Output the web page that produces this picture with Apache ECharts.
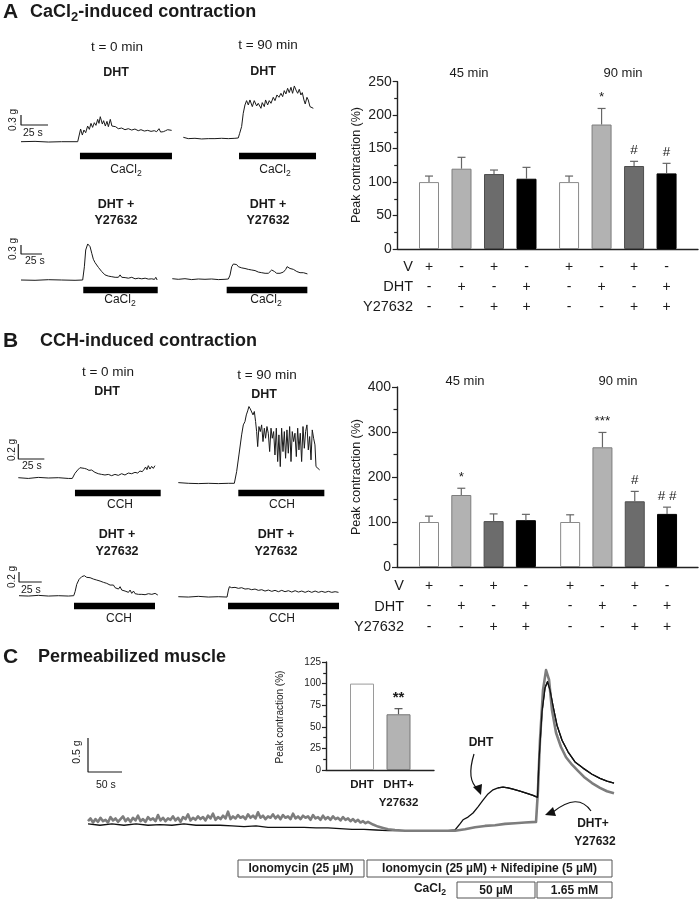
<!DOCTYPE html>
<html><head><meta charset="utf-8">
<script src="https://cdn.jsdelivr.net/npm/echarts@6/dist/echarts.min.js"></script>
<style>html,body{margin:0;padding:0;background:#fff}#c{width:700px;height:900px}</style>
</head><body><div id="c"></div>
<script>
// ================= DATA =================
// Panel A / B bar charts (Peak contraction, %)
const groupLabels = ['45 min', '90 min'];
const rowLabels = ['V', 'DHT', 'Y27632'];
const signV   = ['+','-','+','-','+','-','+','-'];
const signDHT = ['-','+','-','+','-','+','-','+'];
const signY   = ['-','-','+','+','-','-','+','+'];

const caMean = [100, 120, 112, 105, 100, 186, 124, 113];
const caErr  = [9, 17, 6, 17, 9, 24, 7, 15];
const caMark = ['', '', '', '', '', '*', '#', '#'];

const cchMean = [100, 160, 102, 104, 100, 266, 146, 118];
const cchErr  = [13, 15, 16, 13, 16, 33, 22, 15];
const cchMark = ['', '*', '', '', '', '***', '#', '# #'];

// Panel C inset
const permLabels = ['DHT', 'DHT+\nY27632'];
const permMean = [100, 64.5];
const permErr  = [0, 6.5];
const permMark = ['', '**'];

// Traces: [time (s), tension (g) relative to baseline]
const aT0DHT = [[0,0],[13,0.01],[25.3,-0.01],[37.6,0],[52.5,0],[54,0.01],[55.2,0.38],[56.8,0.2],[58.3,0.35],[59.9,0.27],[61.7,0.47],[63.3,0.37],[64.8,0.55],[66.3,0.43],[67.9,0.57],[69.4,0.49],[71,0.67],[72.2,0.55],[73.4,0.75],[75.3,0.53],[76.5,0.63],[78.1,0.47],[79.6,0.61],[80.9,0.45],[82.7,0.67],[84.2,0.47],[85.8,0.43],[87.6,0.45],[90.1,0.39],[93.2,0.41],[96.3,0.36],[99.4,0.39],[102.5,0.35],[105.5,0.38],[108.6,0.33],[111.1,0.36],[114.2,0.32],[117.3,0.34],[120.4,0.31],[123.4,0.33],[125.6,0.3],[127.8,0.39],[129.3,0.29],[131.8,0.3],[133.9,0.33],[135.8,0.36],[137.3,0.31],[139.5,0.34]];
const aT90DHT = [[0,0.03],[4.6,-0.01],[10.8,0],[17,-0.02],[23.1,-0.01],[29.3,-0.01],[35.5,0],[41.7,-0.01],[47.8,0],[50.9,0.01],[52.2,0.15],[54,0.35],[55.5,0.75],[57.1,1.0],[58.6,1.13],[60.2,1.0],[61.7,1.15],[63.9,0.95],[65.7,1.13],[67.9,0.97],[69.4,1.05],[71.9,0.9],[73.1,1.07],[75,0.95],[76.2,1.15],[78.1,1.0],[79.6,1.13],[81.2,1.05],[83.3,1.23],[84.9,1.13],[86.7,1.3],[88.6,1.23],[90.4,1.35],[92,1.25],[93.5,1.43],[95,1.33],[96.6,1.5],[98.1,1.37],[99.7,1.53],[101.2,1.35],[102.8,1.57],[104.3,1.45],[105.9,1.35],[107.4,1.47],[108.9,1.3],[110.2,1.37],[111.7,1.15],[112.9,1.03],[114.5,1.23],[115.7,1.15],[117.3,0.95],[118.8,0.93],[120.4,0.9]];
const aT0Y = [[0,0],[16.7,-0.01],[32.6,0.01],[48.4,0],[64.3,-0.01],[73.4,0],[74.2,0],[75.4,0.44],[77,1.0],[79.4,1.2],[82.2,1.11],[84.2,0.89],[86.1,0.69],[88.1,0.58],[90.1,0.5],[92.1,0.42],[94.1,0.36],[96.1,0.28],[98.1,0.24],[100,0.17],[102,0.2],[104,0.13],[106,0.17],[108,0.11],[110,0.17],[112,0.09],[113.9,0.13],[115.9,0.09],[117.9,0.17],[119.9,0.09],[123.9,0.08],[127.8,0.06],[131.8,0.09],[135.8,0.04],[139.7,0.06],[143.7,0.04],[147.7,0.06],[151.7,0.03],[155.6,0.04],[158.8,0.02],[160.4,0.09],[162,0]];
const aT90Y = [[0,0.02],[7.1,0],[15.1,0.02],[23,-0.01],[31,0.01],[38.9,0],[46.8,0.01],[54.8,-0.01],[62.7,0],[66.7,0.01],[68.7,0.14],[70.7,0.42],[72.7,0.51],[74.6,0.53],[76.6,0.49],[78.6,0.42],[80.6,0.44],[82.6,0.38],[86.5,0.36],[90.5,0.33],[94.5,0.31],[98.5,0.29],[102.4,0.24],[106.4,0.22],[110.4,0.2],[114.3,0.2],[116.3,0.22],[118.3,0.31],[119.9,0.33],[121.5,0.26],[124.2,0.2],[128.2,0.2],[132.2,0.24],[135,0.33],[136.6,0.42],[138.2,0.37],[140.1,0.36],[142.1,0.31],[144.1,0.33],[146.1,0.27],[148.1,0.26],[150.1,0.28],[152,0.22],[154,0.24],[156,0.22],[158,0.23],[160.8,0.18]];
const bT0DHT = [[0,0],[9.6,-0.01],[19.2,0.004],[28.8,-0.004],[38.4,0],[48,-0.01],[51.8,-0.01],[54.4,0.058],[57,0.102],[59.2,0.133],[60.8,0.142],[63.4,0.124],[65.6,0.115],[67.8,0.098],[70.4,0.102],[73.6,0.071],[76.8,0.053],[80,0.044],[83.2,0.036],[86.4,0.044],[89.6,0.027],[92.8,0.044],[96,0.031],[99.2,0.053],[102.4,0.036],[105.6,0.062],[108.8,0.053],[112,0.071],[114.6,0.062],[116.8,0.089],[119,0.08],[121,0.115],[122.2,0.142],[123.5,0.107],[124.8,0.16],[126.4,0.115],[128,0.151],[129.6,0.124],[131.2,0.16]];
const bT90DHT = [[0,0.009],[9.6,0],[19.2,-0.004],[28.8,0],[38.4,-0.004],[48,0],[53.8,0],[56,0.155],[58.2,0.377],[60.8,0.644],[62.4,0.777],[64,0.821],[65.3,0.91],[66.6,0.963],[67.8,1.021],[69.1,0.99],[70.4,0.999],[71.7,0.91],[73,0.955],[74.2,0.821],[75.2,0.688],[76.2,0.488],[77.4,0.755],[78.7,0.688],[80,0.777],[81.3,0.555],[82.6,0.733],[83.8,0.599],[85.1,0.755],[86.4,0.666],[87.7,0.422],[89,0.733],[90.2,0.599],[91.5,0.688],[92.8,0.377],[94.1,0.733],[95.4,0.289],[96.6,0.644],[97.9,0.222],[99.2,0.733],[100.5,0.422],[101.8,0.688],[103,0.333],[104.3,0.71],[105.6,0.4],[106.9,0.755],[108.2,0.289],[109.4,0.688],[110.7,0.555],[112,0.666],[113.3,0.355],[114.6,0.733],[115.8,0.444],[117.1,0.666],[118.4,0.289],[119.7,0.755],[121,0.466],[122.2,0.688],[123.5,0.777],[124.8,0.444],[126.1,0.622],[127.4,0.311],[128.6,0.71],[129.9,0.599],[131.2,0.511],[132.2,0.222],[133.8,0.2],[135.7,0.178]];
const bT0Y = [[0,0],[10.3,-0.007],[21.3,0.007],[32.3,-0.007],[43.3,0],[54.3,-0.007],[60.2,0],[61.7,0.08],[63.5,0.227],[66.1,0.327],[69,0.38],[71.9,0.4],[74.5,0.367],[78.2,0.36],[81.8,0.333],[85.5,0.313],[89.2,0.293],[92.9,0.267],[96.5,0.247],[100.2,0.213],[102,0.18],[103.9,0.213],[105.7,0.16],[107.5,0.2],[109.4,0.133],[111.2,0.18],[113,0.113],[114.9,0.147],[116.7,0.093],[118.5,0.133],[120.4,0.067],[122.2,0.113],[124,0.047],[125.9,0.093],[127.7,0.04],[129.5,0.08],[131.4,0.027],[133.2,0.067],[135.1,0.027],[136.9,0.053],[138.7,0.02],[142.4,0.04],[146.1,0.027],[149.7,0.047],[152.7,0.013]];
const bT90Y = [[0,0],[11,-0.007],[22,0.007],[33,-0.007],[44,0],[53.6,-0.007],[55.1,0.133],[56.2,0.2],[58.7,0.18],[62.4,0.187],[66.1,0.167],[69.7,0.18],[73.4,0.153],[77.1,0.16],[80.7,0.14],[84.4,0.153],[88.1,0.127],[91.8,0.14],[95.4,0.113],[99.1,0.133],[102.8,0.107],[106.4,0.127],[110.1,0.1],[113.8,0.127],[117.4,0.1],[121.1,0.12],[124.8,0.093],[128.5,0.12],[132.1,0.093],[135.8,0.113],[139.5,0.087],[143.1,0.113],[146.8,0.087],[150.5,0.113],[154.1,0.087],[157.8,0.107],[161.5,0.087],[165.1,0.107],[168.8,0.087],[172.5,0.1],[176.2,0.087]];
// stimulus application windows [on, off] (s)
const stimA = [[54.6,139.8],[51.6,122.9],[74.1,162.7],[64.7,160.7]];
const stimB = [[54.4,136.7],[57.6,140.2],[60.5,149.6],[54.7,176.8]];

// Panel C permeabilized muscle traces
const cDHT = [[0,0.09],[17.6,0.07],[35.3,0.09],[52.9,0.07],[70.6,0.09],[88.2,0.07],[105.8,0.08],[123.5,0.07],[141.1,0.09],[158.8,0.07],[176.4,0.07],[194,0.07],[211.7,0.06],[229.3,0.05],[247,0.06],[264.6,0.04],[282.2,0.04],[299.9,0.04],[317.5,0.04],[335.2,0.03],[352.8,0.03],[370.4,0.02],[388.1,0.01],[405.7,0.01],[423.4,0],[441,-0.01],[458.6,-0.01],[476.3,-0.01],[493.9,-0.01],[511.6,-0.01],[529.2,-0.01],[539.5,0],[546.8,0.09],[551.3,0.15],[558.6,0.19],[566,0.25],[573.3,0.34],[580.7,0.44],[588,0.53],[595.4,0.59],[602.7,0.62],[610.1,0.63],[617.4,0.62],[624.8,0.6],[635,0.57],[645.3,0.54],[654.2,0.51],[660.8,0.48],[663,1.03],[667.4,1.74],[671.8,2.09],[675.5,2.18],[679.1,2.06],[683.6,1.82],[689.4,1.54],[696.8,1.32],[705.6,1.15],[715.9,1.0],[727.7,0.91],[740.9,0.82],[752.6,0.76],[762.9,0.72],[773.2,0.69]];
// DHT + Y27632: noisy resting segment sampled every cNoiseStep s, then [t, g] pairs
const cNoiseStep = 3.675;
const cDHTYnoise = [0.13,0.17,0.11,0.16,0.12,0.18,0.13,0.15,0.11,0.19,
  0.14,0.17,0.12,0.16,0.2,0.13,0.17,0.12,0.18,0.14,
  0.21,0.13,0.16,0.12,0.19,0.15,0.17,0.13,0.22,0.14,
  0.18,0.13,0.17,0.15,0.2,0.14,0.18,0.12,0.19,0.16,
  0.23,0.14,0.18,0.15,0.2,0.16,0.19,0.14,0.21,0.17,
  0.24,0.15,0.19,0.16,0.21,0.17,0.27,0.16,0.2,0.17,
  0.22,0.18,0.2,0.16,0.23,0.18,0.21,0.17,0.26,0.18,
  0.21,0.16,0.2,0.18,0.23,0.17,0.21,0.16,0.22,0.18,
  0.2,0.16,0.24,0.17,0.2,0.16,0.21,0.18,0.2,0.15,
  0.22,0.17,0.19,0.15,0.21,0.16,0.19,0.15,0.2,0.16,
  0.18,0.14,0.19,0.15,0.17,0.13,0.16,0.12,0.15,0.11,
  0.13,0.1,0.12];
const cDHTYrest = [[419,0.08],[426.3,0.05],[433.7,0.03],[441,0.01],[451.3,0],[466,-0.01],[480.7,-0.01],[495.4,-0.01],[510.1,-0.01],[524.8,-0.01],[539.5,-0.01],[554.2,0.01],[568.9,0.04],[583.6,0.06],[598.3,0.07],[613,0.09],[627.7,0.1],[642.4,0.11],[658.6,0.12],[661.5,0.59],[664.4,1.32],[668.9,2.06],[673.3,2.35],[677.7,2.21],[682.1,1.76],[688,1.43],[695.3,1.22],[702.7,1.07],[711.5,0.96],[720.3,0.87],[729.1,0.78],[740.9,0.69],[752.6,0.62],[762.9,0.57],[773.2,0.54]];

// ================= STYLE / LAYOUT =================
const FONT = '"Liberation Sans", Arial, sans-serif';
const INK = '#1a1a1a';
const option = {animation:false, backgroundColor:'#fff', grid:[], xAxis:[], yAxis:[], series:[], graphic:[]};
const mctx = document.createElement('canvas').getContext('2d');
function fnt(size, bold){ return (bold ? 'bold ' : '') + size + 'px ' + FONT; }
function tw(text, size, bold){ mctx.font = fnt(size, bold); return mctx.measureText(text).width; }
function T(text, x, y, size, o){
  o = o || {};
  const al = o.align || 'center', va = o.va || 'middle';
  option.graphic.push({type:'text', x:x, y:y, rotation:o.rot || 0, silent:true, z:10,
    style:{text:text, font:fnt(size, o.bold), fill:o.color || INK, align:al, verticalAlign:va, textAlign:al, textVerticalAlign:va}});
}
function chem(parts, x, y, size, bold, align){
  const sub = size * 0.72;
  let total = 0; parts.forEach(p => total += tw(p[0], p[1] ? sub : size, bold));
  let cx = align === 'left' ? x : x - total / 2;
  parts.forEach(p => {
    const s = p[1] ? sub : size;
    T(p[0], cx, p[1] ? y + size * 0.32 : y, s, {bold:bold, align:'left'});
    cx += tw(p[0], s, bold);
  });
}
function addGrid(box, xa, ya){
  const gi = option.grid.length;
  option.grid.push({left:box.l, top:box.t, width:box.r - box.l, height:box.b - box.t, containLabel:false});
  option.xAxis.push(Object.assign({gridIndex:gi}, xa));
  option.yAxis.push(Object.assign({gridIndex:gi}, ya));
  return gi;
}
function addTrace(L, pts, stim, o){
  o = o || {};
  const gi = addGrid(L,
    {type:'value', show:false, min:(L.l - L.x0) * L.s, max:(L.r - L.x0) * L.s},
    {type:'value', show:false, min:(L.y0 - L.b) * L.g, max:(L.y0 - L.t) * L.g});
  option.series.push({type:'line', xAxisIndex:gi, yAxisIndex:gi, data:pts, symbol:'none', clip:false, silent:true,
    lineStyle:{color:o.color || INK, width:o.width || 1, join:'round'}, z:o.z || 3});
  if (stim){
    const lv = (L.y0 - L.barY) * L.g;
    option.series.push({type:'line', xAxisIndex:gi, yAxisIndex:gi, data:[[stim[0], lv], [stim[1], lv]], symbol:'none', silent:true,
      lineStyle:{color:'#000', width:L.barW || 6.5, cap:'butt'}});
  }
  if (L.sb){
    const sx = (L.sb.x - L.x0) * L.s, sy = (L.y0 - L.sb.y) * L.g;
    option.series.push({type:'line', xAxisIndex:gi, yAxisIndex:gi, symbol:'none', silent:true, clip:false,
      data:[[sx, sy + L.sb.gv], [sx, sy], [sx + L.sb.sv, sy]], lineStyle:{color:INK, width:1.2, cap:'butt'}});
  }
  return gi;
}
const FILL = ['#ffffff', '#b2b2b2', '#6c6c6c', '#000000'];
const EDGE = ['#8a8a8a', '#7d7d7d', '#4d4d4d', '#000000'];
function addBarChart(C, mean, err, mark, rows){
  const xs = mean.map((_, i) => i + Math.floor(i / 4) * (C.gap || 0));
  const xmin = -(C.first - C.l) / C.unit;
  const axLine = {show:true, onZero:false, lineStyle:{color:'#222', width:1.4}};
  const gi = addGrid(C,
    {type:'value', min:xmin, max:xmin + (C.r - C.l) / C.unit, axisLine:axLine, axisTick:{show:false}, axisLabel:{show:false}, splitLine:{show:false}},
    {type:'value', min:0, max:C.max, interval:C.interval, axisLine:axLine,
     axisTick:{show:true, length:C.tick, lineStyle:{color:'#222', width:1.2}},
     minorTick:{show:true, splitNumber:2, length:C.tick * 0.7, lineStyle:{color:'#222', width:1.2}},
     axisLabel:{fontSize:C.font, color:'#222', fontFamily:FONT, margin:C.margin}, splitLine:{show:false}});
  option.series.push({type:'bar', xAxisIndex:gi, yAxisIndex:gi, barWidth:C.barW, silent:true,
    data:mean.map((v, i) => ({value:[xs[i], v], itemStyle:{color:C.fill[i % C.fill.length], borderColor:C.edge[i % C.edge.length], borderWidth:1}}))});
  option.series.push({type:'custom', xAxisIndex:gi, yAxisIndex:gi, clip:false, silent:true, z:5,
    data:mean.map((v, i) => [xs[i], v, err[i]]), encode:{x:0, y:1},
    renderItem:(params, api) => {
      const i = params.dataIndex, x = api.value(0), v = api.value(1), e = api.value(2);
      const top = api.coord([x, v]), tip = api.coord([x, v + e]), base = api.coord([x, 0]);
      const ch = [];
      const st = {stroke:C.errColor, lineWidth:1.2};
      if (e > 0){
        ch.push({type:'line', shape:{x1:top[0], y1:top[1], x2:tip[0], y2:tip[1]}, style:st});
        ch.push({type:'line', shape:{x1:tip[0] - C.cap, y1:tip[1], x2:tip[0] + C.cap, y2:tip[1]}, style:st});
      }
      if (mark[i]) ch.push({type:'text', x:tip[0], y:tip[1] - C.markGap,
        style:{text:mark[i], font:fnt(C.markSize, C.markBold), fill:INK, align:'center', verticalAlign:'middle', textAlign:'center', textVerticalAlign:'middle'}});
      rows.forEach((r, k) => ch.push({type:'text', x:base[0], y:base[1] + C.rowY[k],
        style:{text:r[i], font:fnt(C.rowSize, C.rowBold), fill:INK, align:'center', verticalAlign:C.rowVA || 'middle', textAlign:'center', textVerticalAlign:C.rowVA || 'middle', lineHeight:C.rowLH || 14}}));
      return {type:'group', children:ch};
    }});
  return gi;
}

// ---------- Panel A ----------
T('A', 3, 12, 21, {bold:true, align:'left'});
chem([['CaCl', false], ['2', true], ['-induced contraction', false]], 30, 12, 18, true, 'left');
T('t = 0 min', 117, 47, 13.5); T('t = 90 min', 268, 45, 13.5);
T('DHT', 116, 73, 12.5, {bold:true}); T('DHT', 263, 72, 12.5, {bold:true});
T('0.3 g', 13, 120, 10, {rot:Math.PI / 2}); T('25 s', 23, 133, 10.5, {align:'left'});
chem([['CaCl', false], ['2', true]], 126, 170, 12, false);
chem([['CaCl', false], ['2', true]], 275, 170, 12, false);
T('DHT +', 116, 205, 12.5, {bold:true}); T('Y27632', 116, 221, 12.5, {bold:true});
T('DHT +', 268, 205, 12.5, {bold:true}); T('Y27632', 268, 221, 12.5, {bold:true});
T('0.3 g', 13, 249, 10, {rot:Math.PI / 2}); T('25 s', 25, 261, 10.5, {align:'left'});
chem([['CaCl', false], ['2', true]], 120, 300, 12, false);
chem([['CaCl', false], ['2', true]], 266, 300, 12, false);

const LA1 = {x0:21, y0:141.7, s:0.926, g:0.03, l:15, r:178, t:80, b:165, barY:156, sb:{x:21, y:125, sv:25, gv:0.3}};
const LA2 = {x0:183.3, y0:138.3, s:0.926, g:0.03, l:178, r:322, t:78, b:165, barY:156};
const LA3 = {x0:21, y0:280, s:1.19, g:0.0333, l:15, r:166, t:232, b:300, barY:290, sb:{x:21, y:254, sv:25, gv:0.3}};
const LA4 = {x0:172.3, y0:279.3, s:1.19, g:0.0333, l:166, r:322, t:232, b:300, barY:290};
addTrace(LA1, aT0DHT, stimA[0]);
addTrace(LA2, aT90DHT, stimA[1]);
addTrace(LA3, aT0Y, stimA[2]);
addTrace(LA4, aT90Y, stimA[3]);

addBarChart({l:397.7, r:698, t:81.7, b:249, unit:32.5, first:429, gap:0.31, max:250, interval:50, font:14, margin:6, tick:5,
  barW:20, fill:FILL, edge:EDGE, errColor:'#666', cap:4, markGap:11, markSize:13.5, markBold:false,
  rowY:[18, 38, 58], rowSize:14}, caMean, caErr, caMark, [signV, signDHT, signY]);
T(groupLabels[0], 469, 73, 13); T(groupLabels[1], 623, 73, 13);
T('Peak contraction (%)', 357, 165, 12.5, {rot:Math.PI / 2});
rowLabels.forEach((r, k) => T(r, 413, 267 + k * 20, 14.5, {align:'right'}));

// ---------- Panel B ----------
T('B', 3, 341, 21, {bold:true, align:'left'});
T('CCH-induced contraction', 40, 341, 18, {bold:true, align:'left'});
T('t = 0 min', 108, 372, 13.5); T('t = 90 min', 267, 375, 13.5);
T('DHT', 107, 392, 12.5, {bold:true}); T('DHT', 264, 395, 12.5, {bold:true});
T('0.2 g', 12, 450, 10, {rot:Math.PI / 2}); T('25 s', 22, 466, 10.5, {align:'left'});
T('CCH', 120, 505, 12); T('CCH', 282, 505, 12);
T('DHT +', 117, 535, 12.5, {bold:true}); T('Y27632', 117, 552, 12.5, {bold:true});
T('DHT +', 276, 535, 12.5, {bold:true}); T('Y27632', 276, 552, 12.5, {bold:true});
T('0.2 g', 12, 577, 10, {rot:Math.PI / 2}); T('25 s', 21, 590, 10.5, {align:'left'});
T('CCH', 119, 619, 12); T('CCH', 282, 619, 12);

const LB1 = {x0:18.3, y0:477.7, s:0.96, g:0.0133, l:10, r:170, t:430, b:500, barY:493, sb:{x:18.3, y:459, sv:25, gv:0.2}};
const LB2 = {x0:178.3, y0:483.3, s:0.96, g:0.0133, l:170, r:335, t:400, b:500, barY:493};
const LB3 = {x0:19, y0:595.7, s:1.1, g:0.02, l:10, r:170, t:560, b:612, barY:606, sb:{x:19, y:582, sv:25, gv:0.2}};
const LB4 = {x0:178.3, y0:596.7, s:1.1, g:0.02, l:170, r:345, t:560, b:612, barY:606};
addTrace(LB1, bT0DHT, stimB[0]);
addTrace(LB2, bT90DHT, stimB[1]);
addTrace(LB3, bT0Y, stimB[2]);
addTrace(LB4, bT90Y, stimB[3]);

addBarChart({l:397, r:698, t:387, b:567, unit:32.3, first:429, gap:0.37, max:400, interval:100, font:14, margin:6, tick:5,
  barW:20, fill:FILL, edge:EDGE, errColor:'#666', cap:4, markGap:11, markSize:13.5, markBold:false,
  rowY:[19, 39, 60], rowSize:14}, cchMean, cchErr, cchMark, [signV, signDHT, signY]);
T(groupLabels[0], 465, 381, 13); T(groupLabels[1], 618, 381, 13);
T('Peak contraction (%)', 357, 477, 12.5, {rot:Math.PI / 2});
rowLabels.forEach((r, k) => T(r, 404, 586 + k * 20.5, 14.5, {align:'right'}));

// ---------- Panel C ----------
T('C', 3, 657, 21, {bold:true, align:'left'});
T('Permeabilized muscle', 38, 657, 18, {bold:true, align:'left'});
const LC = {x0:88, y0:830, s:1.47, g:0.0147, l:80, r:625, t:655, b:845, sb:{x:88, y:772, sv:50, gv:0.5}};
const cDHTY = cDHTYnoise.map((v, i) => [i * cNoiseStep, v]).concat(cDHTYrest);
addTrace(Object.assign({}, LC, {sb:null}), cDHT, null, {color:'#111', width:1.3, z:3});
addTrace(LC, cDHTY, null, {color:'#7d7d7d', width:2.6, z:4});
addTrace(Object.assign({}, LC, {sb:null}), cDHT.filter(p => p[0] > 600), null, {color:'#111', width:1.3, z:5});
T('0.5 g', 77, 752, 10.5, {rot:Math.PI / 2}); T('50 s', 96, 785, 10.5, {align:'left'});

addBarChart({l:326, r:434, t:662, b:770, unit:36.5, first:362, max:125, interval:25, font:10, margin:5, tick:4,
  barW:24, fill:['#ffffff', '#b3b3b3'], edge:['#9a9a9a', '#777777'], errColor:'#555', cap:4, markGap:11, markSize:15, markBold:true,
  rowY:[6], rowSize:11.5, rowBold:true, rowVA:'top', rowLH:18}, permMean, permErr, permMark, [permLabels]);
T('Peak contraction (%)', 280, 717, 10, {rot:Math.PI / 2});

T('DHT', 481, 743, 12, {bold:true});
T('DHT+', 593, 824, 12, {bold:true}); T('Y27632', 595, 842, 12, {bold:true});
option.graphic.push({type:'bezierCurve', silent:true, shape:{x1:474, y1:754, cpx1:466, cpy1:780, x2:478, y2:789}, style:{stroke:'#111', lineWidth:1.2, fill:null}});
option.graphic.push({type:'polygon', silent:true, shape:{points:[[481, 795], [473, 787], [482, 784]]}, style:{fill:'#111'}});
option.graphic.push({type:'bezierCurve', silent:true, shape:{x1:591, y1:811, cpx1:578, cpy1:792, x2:553, y2:812}, style:{stroke:'#111', lineWidth:1.2, fill:null}});
option.graphic.push({type:'polygon', silent:true, shape:{points:[[545, 815], [553, 807], [556, 816]]}, style:{fill:'#111'}});

function box(x, y, w, h, text){
  option.graphic.push({type:'rect', silent:true, shape:{x:x, y:y, width:w, height:h}, style:{fill:'#fff', stroke:'#555', lineWidth:1}});
  T(text, x + w / 2, y + h / 2 + 0.5, 12, {bold:true});
}
box(238, 860, 126, 17, 'Ionomycin (25 µM)');
box(367, 860, 245, 17, 'Ionomycin (25 µM) + Nifedipine (5 µM)');
chem([['CaCl', false], ['2', true]], 430, 889, 12, true);
box(457, 882, 78, 16, '50 µM');
box(537, 882, 75, 16, '1.65 mM');

const chart = echarts.init(document.getElementById('c'), null, {renderer:'canvas', width:700, height:900});
chart.setOption(option);
</script>
</body></html>
